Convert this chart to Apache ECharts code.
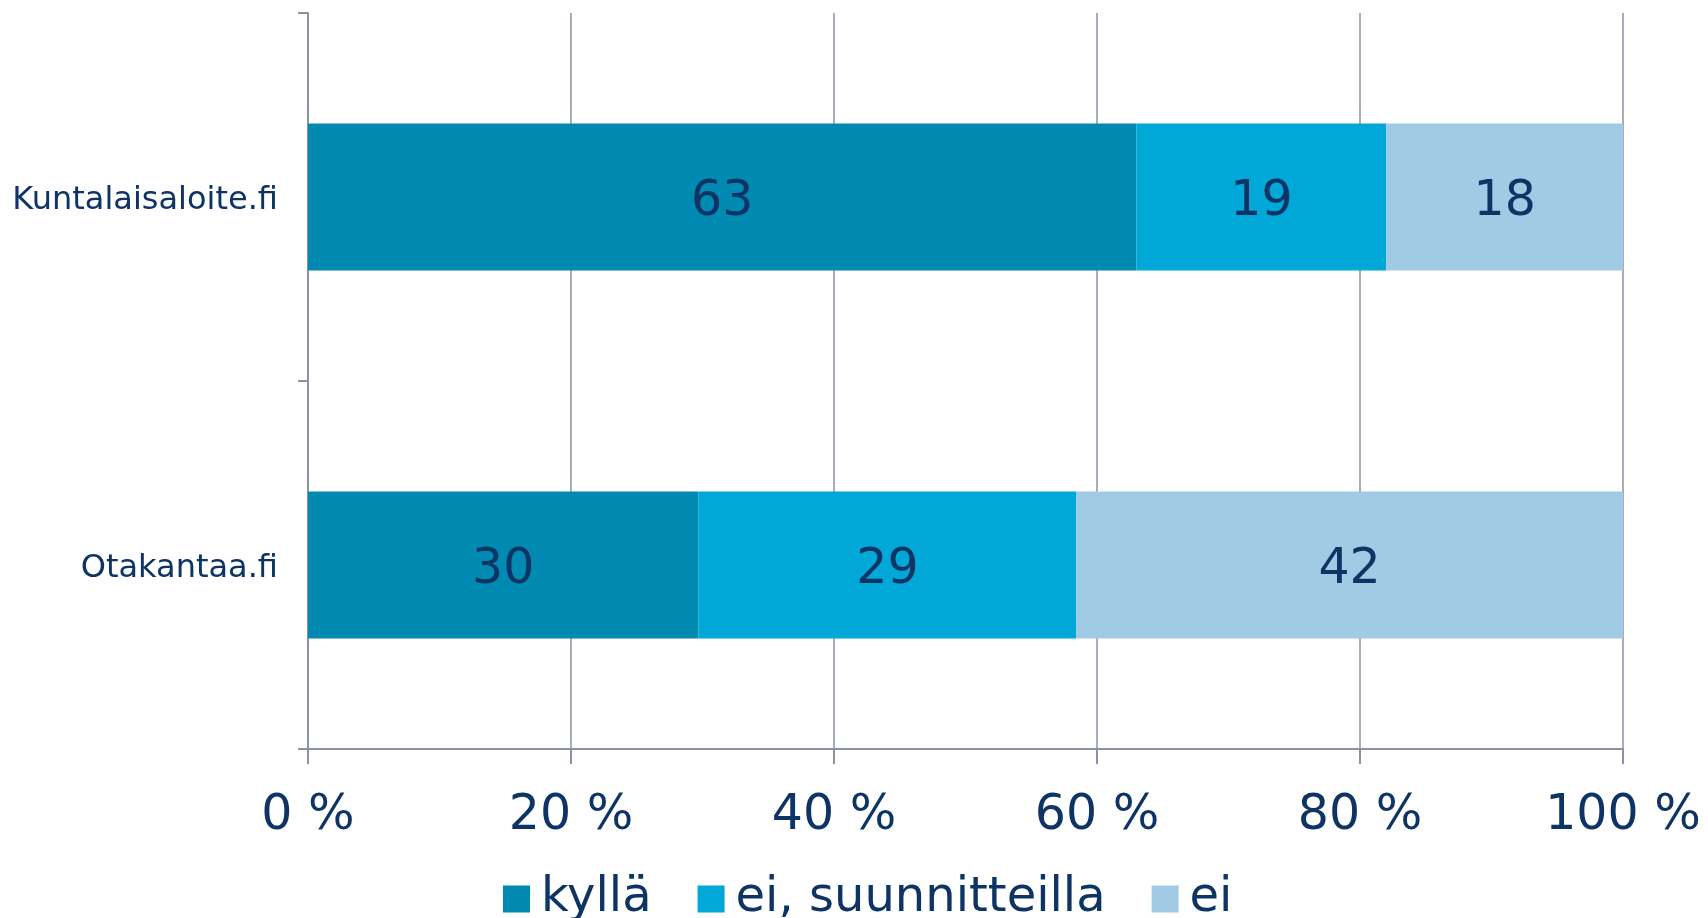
<!DOCTYPE html>
<html>
<head>
<meta charset="utf-8">
<script src="https://cdn.jsdelivr.net/npm/echarts@6/dist/echarts.min.js"></script>
<style>
  html, body { margin: 0; padding: 0; background: #fff; }
  #chart { width: 1708px; height: 918px; }
</style>
</head>
<body>
<div id="chart"></div>
<script>
var categories = ['Kuntalaisaloite.fi', 'Otakantaa.fi'];
var seriesNames = ['kyllä', 'ei, suunnitteilla', 'ei'];
var kylla = [63, 30];
var eiSuunnitteilla = [19, 29];
var ei = [18, 42];
var tickLabels = ['0 %', '20 %', '40 %', '60 %', '80 %', '100 %'];

var colors = ['#0089B1', '#00A7D7', '#A1CBE4'];
var textColor = '#0D3464';
var lineColor = '#8C91A4';
var font = 'DejaVu Sans, Verdana, sans-serif';

var raw = [kylla, eiSuunnitteilla, ei];
// each row is drawn as a share of its own total (100 % stacked)
var totals = categories.map(function (c, i) {
  return raw.reduce(function (s, arr) { return s + arr[i]; }, 0);
});

var chartDom = document.getElementById('chart');
var myChart = echarts.init(chartDom);
var option;

option = {
  animation: false,
  grid: { left: 308, right: 85, top: 13, bottom: 169 },
  legend: {
    data: seriesNames,
    left: 498,
    top: 870,
    icon: 'rect',
    itemWidth: 27,
    itemHeight: 27,
    itemGap: 46,
    textStyle: { fontFamily: font, fontSize: 48, color: textColor, padding: [0, 0, 0, 6] }
  },
  xAxis: {
    type: 'value',
    min: 0,
    max: 100,
    interval: 20,
    axisLine: { show: true, lineStyle: { color: lineColor, width: 2 } },
    axisTick: { show: true, length: 15, lineStyle: { color: lineColor, width: 2 } },
    splitLine: { show: true, lineStyle: { color: lineColor, width: 1.5 } },
    axisLabel: {
      fontFamily: font,
      fontSize: 49,
      color: textColor,
      margin: 43,
      formatter: function (v) { return tickLabels[v / 20]; }
    }
  },
  yAxis: {
    type: 'category',
    inverse: true,
    data: categories,
    axisLine: { show: true, lineStyle: { color: lineColor, width: 2 } },
    axisTick: { show: true, length: 10, lineStyle: { color: lineColor, width: 2 } },
    axisLabel: {
      margin: 30,
      formatter: function (v) { return '{c|' + v + '}'; },
      rich: {
        c: { fontFamily: font, fontSize: 32, color: textColor, padding: [8, 0, 0, 0] }
      }
    }
  },
  series: seriesNames.map(function (name, k) {
    return {
      name: name,
      type: 'bar',
      stack: 'total',
      barWidth: 147,
      itemStyle: { color: colors[k] },
      label: {
        show: true,
        position: 'inside',
        offset: [0, 5],
        fontFamily: font,
        fontSize: 49,
        color: textColor,
        formatter: function (p) { return raw[k][p.dataIndex]; }
      },
      data: raw[k].map(function (v, i) { return v / totals[i] * 100; })
    };
  })
};

option && myChart.setOption(option);
</script>
</body>
</html>
